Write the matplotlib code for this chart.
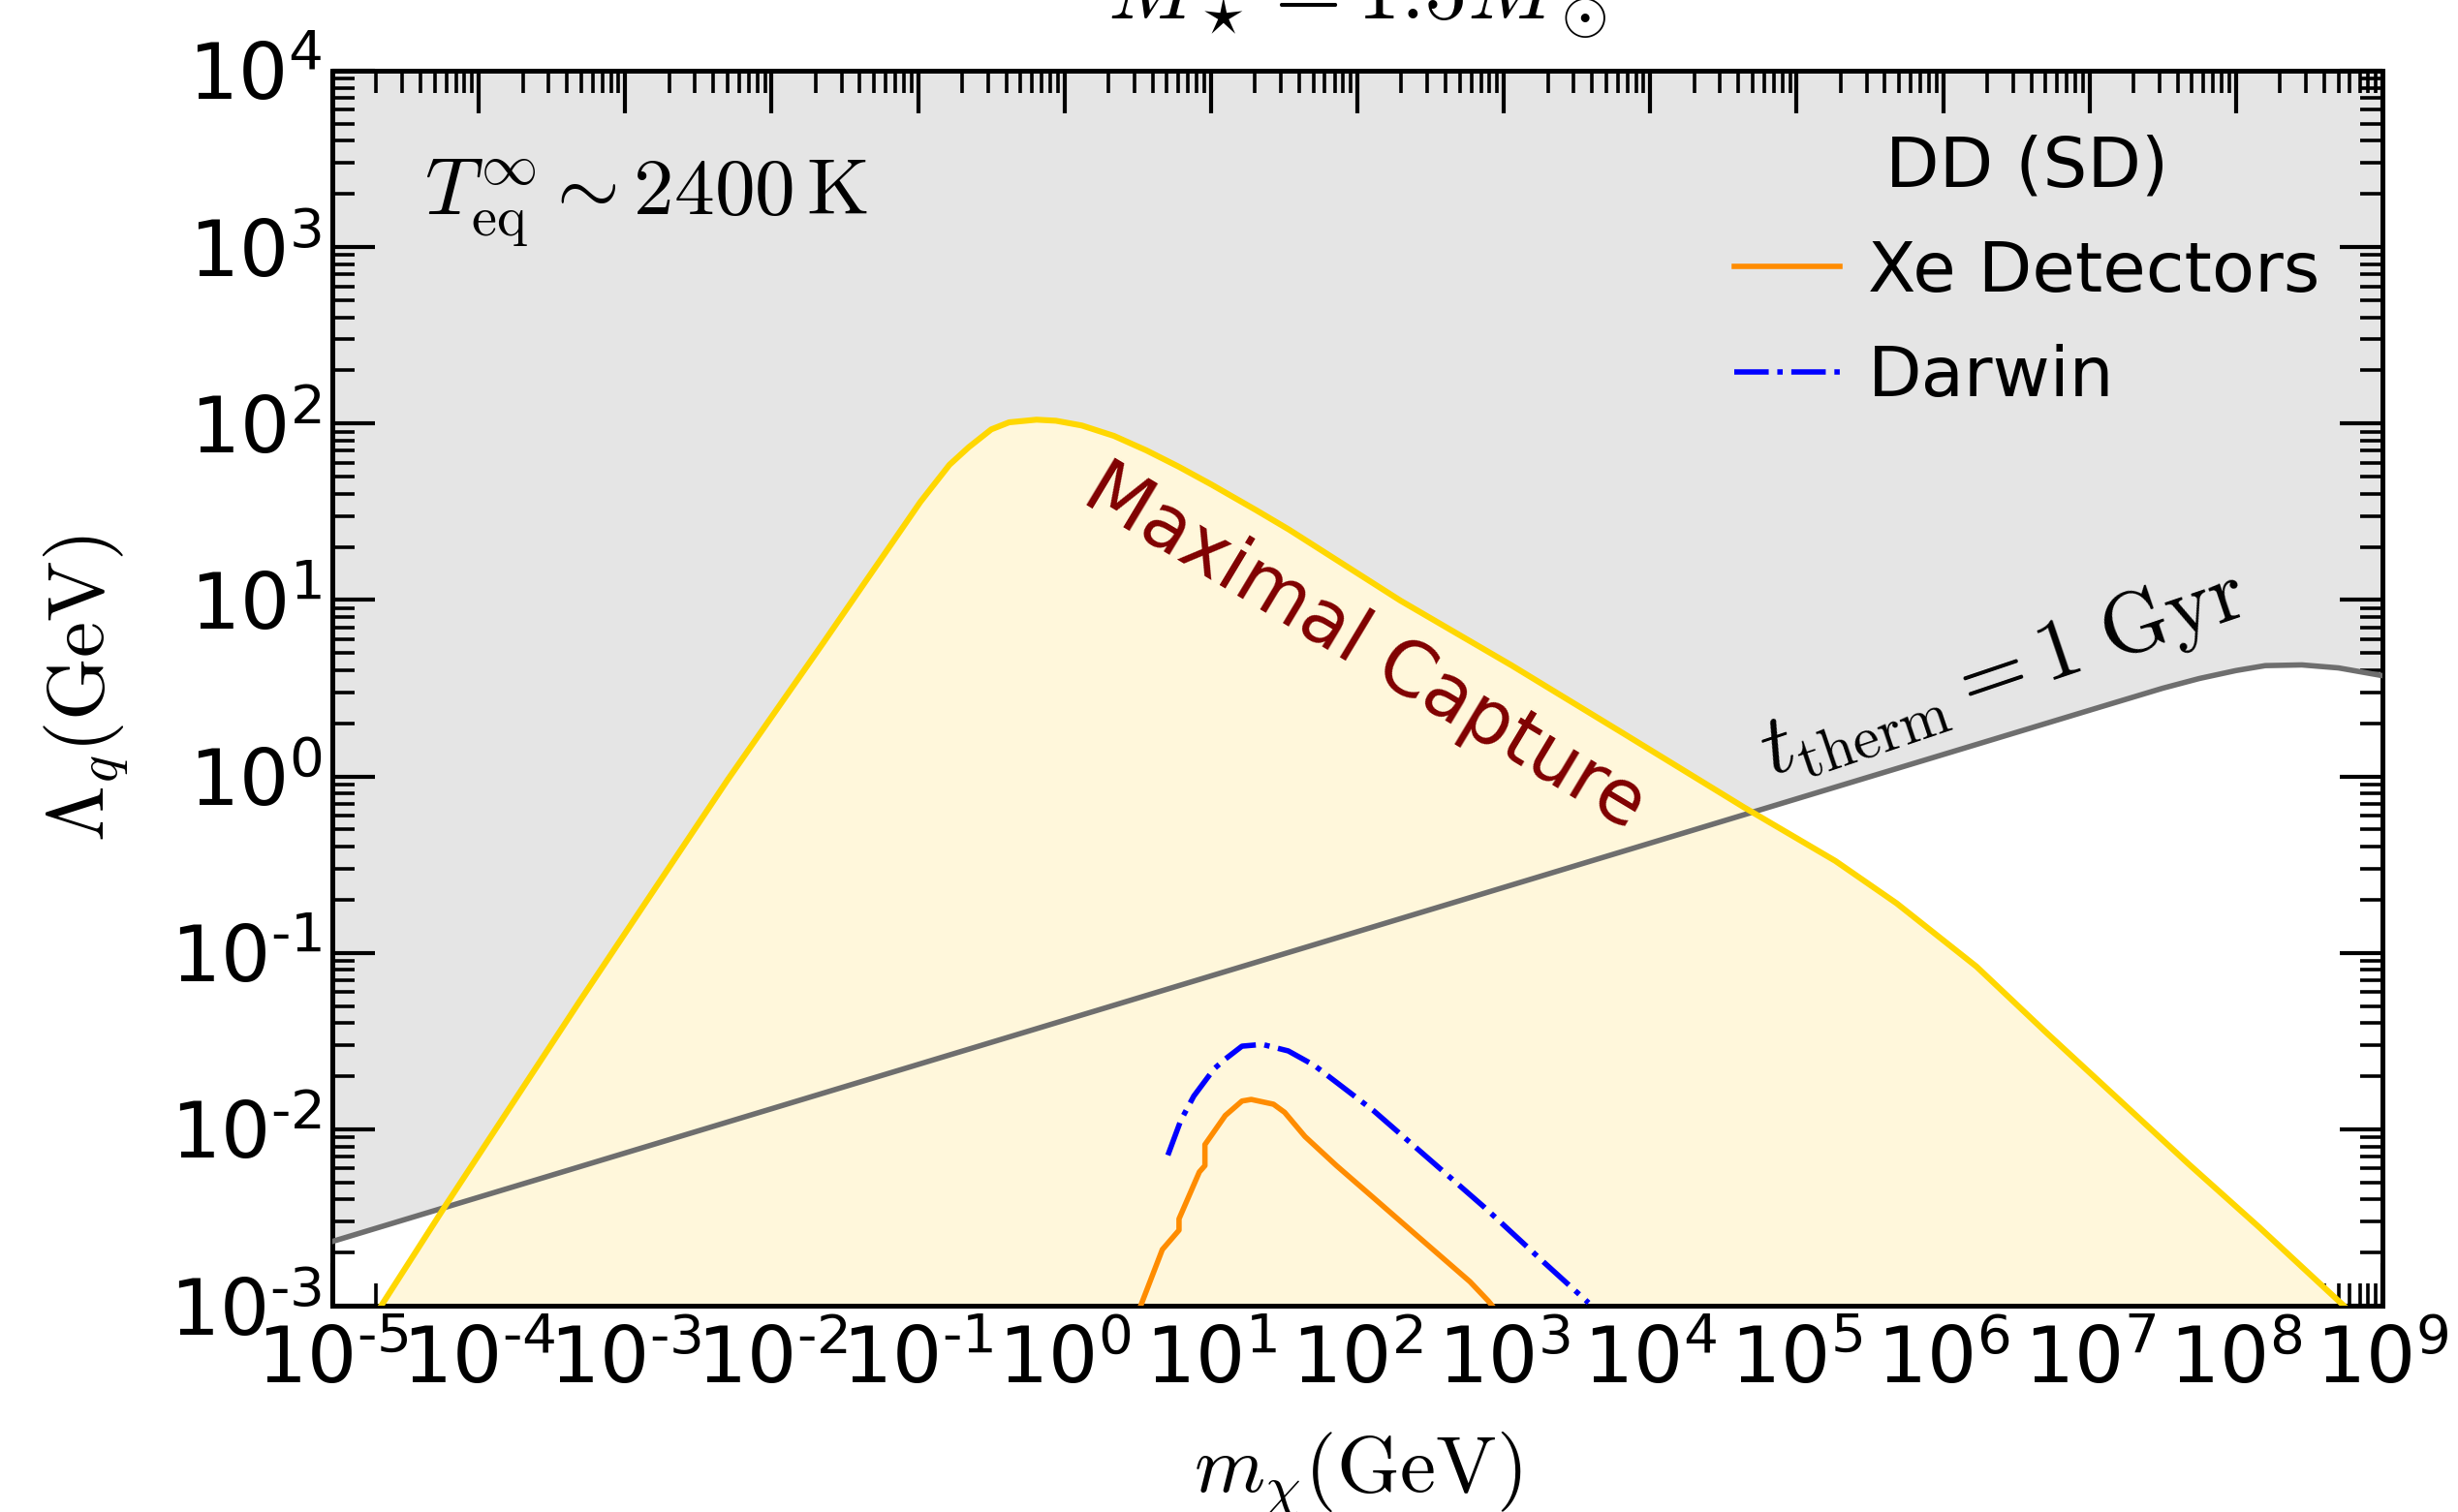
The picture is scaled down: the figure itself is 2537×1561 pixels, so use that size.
import numpy as np
import matplotlib
matplotlib.use("Agg")
import matplotlib.pyplot as plt
from matplotlib.ticker import LogLocator, NullFormatter, FuncFormatter

plt.rcParams['font.family'] = ['DejaVu Sans']
plt.rcParams['mathtext.fontset'] = 'cm'
plt.rcParams['axes.unicode_minus'] = False

# ---- data (log10 values) ----
# Maximal capture boundary (gold)
cap_logm = [-4.666, -4.226, -3.314, -2.301, -1.646, -1.426, -1.205, -0.985, -0.786, -0.654,
            -0.500, -0.378, -0.191, -0.059, 0.118, 0.338, 0.559, 0.779, 1.000, 1.309,
            1.533, 2.293, 3.052, 3.812, 4.638, 5.264, 5.682, 6.228, 6.711, 7.193,
            7.675, 8.158, 8.624, 8.736]
cap_logL = [-3.0, -2.431, -1.278, -0.02, 0.759, 1.024, 1.290, 1.555, 1.766, 1.866,
            1.967, 2.007, 2.022, 2.016, 1.989, 1.930, 1.848, 1.756, 1.656, 1.509,
            1.399, 0.997, 0.630, 0.246, -0.174, -0.479, -0.719, -1.078, -1.457, -1.826,
            -2.196, -2.555, -2.914, -3.0]
# t_therm = 1 Gyr (gray)
therm_logm = [-5.0, 0.0, 5.0, 7.0, 7.5, 7.75, 8.0, 8.2, 8.45, 8.7, 9.0]
therm_logL = [-2.636, -1.382, -0.127, 0.375, 0.50, 0.555, 0.60, 0.628, 0.632, 0.615, 0.571]
# Xe detectors (orange)
xe_logm = [0.52, 0.528, 0.668, 0.782, 0.782, 0.921, 0.959, 0.959, 1.098, 1.212, 1.275,
           1.427, 1.503, 1.642, 1.857, 2.111, 2.364, 2.769, 2.895, 2.92]
xe_logL = [-3.0, -2.984, -2.682, -2.572, -2.508, -2.242, -2.206, -2.087, -1.922, -1.840,
           -1.831, -1.858, -1.904, -2.041, -2.206, -2.389, -2.572, -2.864, -2.974, -3.0]
# Darwin (blue dash-dot)
dw_logm = [0.706, 0.794, 0.883, 1.022, 1.098, 1.212, 1.351, 1.528, 1.706, 2.111,
           2.490, 2.870, 3.275, 3.579]
dw_logL = [-2.147, -1.950, -1.812, -1.657, -1.602, -1.529, -1.519, -1.556, -1.638, -1.895,
           -2.169, -2.444, -2.755, -2.984]

xlim = (1e-5, 1e9)
ylim = (1e-3, 1e4)

def tolin(a):
    return 10.0 ** np.asarray(a)

fig = plt.figure(figsize=(12.685, 7.805), dpi=200)
ax = fig.add_axes([343/2537, 1-1348/1561, (2459-343)/2537, (1348-73)/1561])
ax.set_xscale('log')
ax.set_yscale('log')
ax.set_xlim(*xlim)
ax.set_ylim(*ylim)

tm, tL = tolin(therm_logm), tolin(therm_logL)
cm_, cL = tolin(cap_logm), tolin(cap_logL)

ax.fill_between(tm, tL, ylim[1], color='gray', alpha=0.2, lw=0, zorder=1)
ax.fill_between(cm_, ylim[0], cL, color='#FFF7DB', lw=0, zorder=2)
ax.plot(tm, tL, color='#6e6e6e', lw=2.0, zorder=3)
ax.plot(cm_, cL, color='#FFD700', lw=2.2, zorder=4, solid_joinstyle='round')
ax.plot(tolin(xe_logm), tolin(xe_logL), color='#FF8C00', lw=2.0, zorder=5, label='Xe Detectors')
ax.plot(tolin(dw_logm), tolin(dw_logL), color='blue', lw=2.0, ls='-.', zorder=5, label='Darwin')

# ticks
ax.xaxis.set_major_locator(LogLocator(base=10, numticks=100))
ax.xaxis.set_minor_locator(LogLocator(base=10, subs=np.arange(2, 10), numticks=200))
ax.yaxis.set_major_locator(LogLocator(base=10, numticks=100))
ax.yaxis.set_minor_locator(LogLocator(base=10, subs=np.arange(2, 10), numticks=200))
ax.xaxis.set_minor_formatter(NullFormatter())
ax.yaxis.set_minor_formatter(NullFormatter())

def fmt(v, pos):
    e = int(round(np.log10(v)))
    s = str(e).replace('-', '\u2010')
    return r'$\mathregular{10^{%s}}$' % s

ax.xaxis.set_major_formatter(FuncFormatter(fmt))
ax.yaxis.set_major_formatter(FuncFormatter(fmt))
ax.tick_params(which='both', direction='in', top=True, right=True, labelsize=29)
ax.tick_params(which='major', length=15.8, width=1.5)
ax.tick_params(which='minor', length=8.3, width=1.3)
ax.tick_params(axis='x', which='major', pad=7)
ax.tick_params(axis='y', which='major', pad=4)
for sp in ax.spines.values():
    sp.set_linewidth(1.8)

ax.set_xlabel(r'$m_\chi(\mathrm{GeV})$', fontsize=30)
ax.set_ylabel(r'$\Lambda_q(\mathrm{GeV})$', fontsize=30)
ax.xaxis.set_label_coords(0.5, -0.101)
ax.yaxis.set_label_coords(-0.099, 0.5)

# annotations
ax.text(0.045, 0.883, r'$T_{\rm eq}^{\infty} \sim 2400\,\mathrm{K}$', transform=ax.transAxes,
        fontsize=30, ha='left', va='baseline')
ax.text(10**2.05, 10**0.73, 'Maximal Capture', color='#800000', fontsize=28,
        rotation=-31, ha='center', va='center', rotation_mode='anchor', zorder=6)
ax.text(10**6.41, 10**0.585, r'$t_{\rm therm} = 1\ \mathrm{Gyr}$', fontsize=32,
        rotation=18.7, ha='center', va='center', rotation_mode='anchor', zorder=6)

leg = ax.legend(title='DD (SD)', loc='upper right', frameon=False, fontsize=26,
                title_fontsize=26, handlelength=1.5, handletextpad=0.4, labelspacing=0.55,
                bbox_to_anchor=(1.0, 1.0))

fig.text((343+2459)/2/2537, 1-20/1561, r'$M_\star = 1.5 M_\odot$', fontsize=32,
         ha='center', va='baseline')

fig.savefig('out.png', dpi=200)
